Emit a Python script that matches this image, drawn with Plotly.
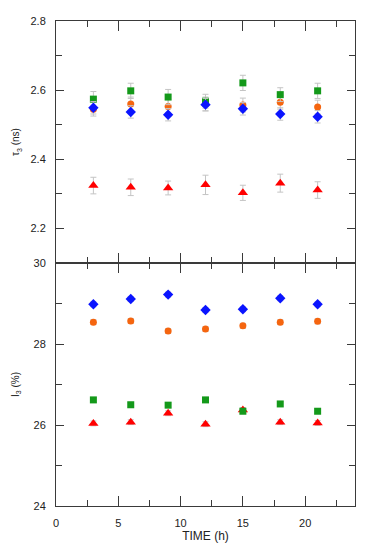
import plotly.graph_objects as go

time_h = [3, 6, 9, 12, 15, 18, 21]

# tau3 (ns)
tau_green = [2.574, 2.598, 2.580, 2.568, 2.621, 2.587, 2.598]
tau_orange = [2.545, 2.560, 2.553, 2.560, 2.557, 2.565, 2.551]
tau_blue = [2.549, 2.537, 2.529, 2.558, 2.546, 2.531, 2.523]
tau_red = [2.324, 2.319, 2.317, 2.326, 2.303, 2.331, 2.311]
tau_err_green = [0.022, 0.022, 0.022, 0.020, 0.022, 0.020, 0.022]
tau_err_orange = [0.020, 0.020, 0.020, 0.020, 0.020, 0.020, 0.020]
tau_err_blue = [0.018, 0.018, 0.018, 0.018, 0.018, 0.018, 0.018]
tau_err_red = [0.024, 0.024, 0.020, 0.028, 0.022, 0.026, 0.024]

# I3 (%)
i_blue = [28.98, 29.11, 29.22, 28.84, 28.86, 29.13, 28.98]
i_orange = [28.54, 28.57, 28.32, 28.37, 28.45, 28.54, 28.56]
i_green = [26.62, 26.50, 26.49, 26.62, 26.34, 26.52, 26.34]
i_red = [26.04, 26.07, 26.29, 26.02, 26.37, 26.07, 26.05]
i_err = [0.06, 0.06, 0.06, 0.06, 0.06, 0.06, 0.06]

GREEN = "#14991a"
ORANGE = "#f5650f"
BLUE = "#0a14ff"
RED = "#ff0000"
ERRC = "#c4c4c4"

fig = go.Figure()

def add(y, err, color, symbol, size, xa, ya):
    fig.add_trace(go.Scatter(
        x=time_h, y=y, mode="markers",
        marker=dict(color=color, symbol=symbol, size=size, line=dict(width=0)),
        error_y=dict(type="data", array=err, color=ERRC, thickness=1, width=3),
        xaxis=xa, yaxis=ya, showlegend=False))

add(tau_red, tau_err_red, RED, "triangle-up", 9, "x", "y")
add(tau_orange, tau_err_orange, ORANGE, "circle", 7, "x", "y")
add(tau_green, tau_err_green, GREEN, "square", 7, "x", "y")
add(tau_blue, tau_err_blue, BLUE, "diamond", 8, "x", "y")

add(i_red, i_err, RED, "triangle-up", 9, "x2", "y2")
add(i_green, i_err, GREEN, "square", 7, "x2", "y2")
add(i_orange, i_err, ORANGE, "circle", 7, "x2", "y2")
add(i_blue, i_err, BLUE, "diamond", 8, "x2", "y2")

AX = "#3a3a3a"
FONT = dict(family="Liberation Sans, Arial, sans-serif", size=11, color="#222222")

xcommon = dict(range=[0, 24], tickmode="linear", tick0=0, dtick=5,
               ticks="inside", ticklen=10, tickwidth=1, tickcolor=AX,
               showline=True, linecolor=AX, linewidth=1, mirror="allticks",
               showgrid=False, zeroline=False, ticklabelstandoff=7,
               minor=dict(dtick=2.5, ticks="inside", ticklen=6, tickcolor=AX, showgrid=False))
ycommon = dict(ticks="inside", ticklen=8, tickwidth=1, tickcolor=AX,
               showline=True, linecolor=AX, linewidth=1, mirror="allticks",
               showgrid=False, zeroline=False, ticklabelstandoff=7)

split = 246 / 491

fig.update_layout(
    width=364, height=542,
    margin=dict(l=42, r=17, t=7, b=44),
    paper_bgcolor="white", plot_bgcolor="white",
    font=FONT,
    xaxis=dict(**xcommon, domain=[0, 1], anchor="y", showticklabels=False),
    yaxis=dict(**ycommon, domain=[split, 1], anchor="x", range=[2.1, 2.8],
               tickmode="array", tickvals=[2.2, 2.4, 2.6, 2.8],
               ticktext=["2.2", "2.4", "2.6", "2.8"],
               minor=dict(tickvals=[2.3, 2.5, 2.7], ticks="inside", ticklen=6, tickcolor=AX, showgrid=False),
               title=dict(text="τ<sub>3</sub> (ns)", font=dict(size=10), standoff=8)),
    xaxis2=dict(**xcommon, domain=[0, 1], anchor="y2",
                title=dict(text="TIME (h)", font=dict(size=12), standoff=3)),
    yaxis2=dict(**ycommon, domain=[0, split], anchor="x2", range=[24, 30],
                tickmode="array", tickvals=[24, 26, 28, 30],
                minor=dict(tickvals=[25, 27, 29], ticks="inside", ticklen=6, tickcolor=AX, showgrid=False),
                title=dict(text="I<sub>3</sub> (%)", font=dict(size=10), standoff=12)),
)

fig.write_html("out.html")
